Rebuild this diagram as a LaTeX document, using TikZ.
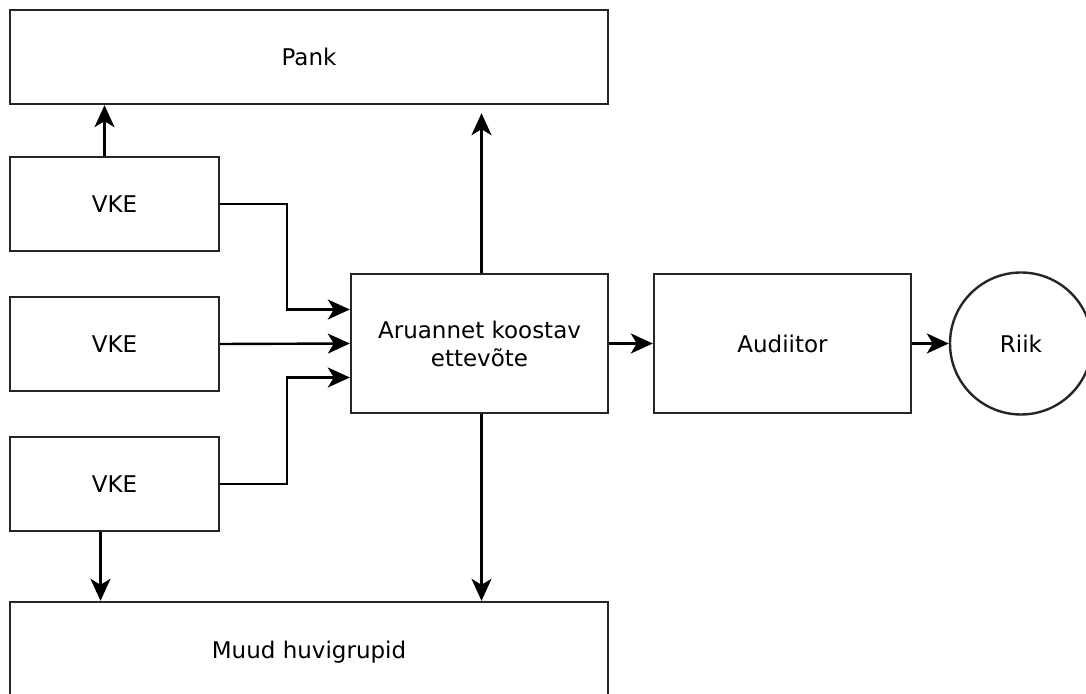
\documentclass[tikz,border=0pt]{standalone}
\usepackage{fontspec}
\setmainfont{DejaVu Sans}
\usepackage{tikz}
\usetikzlibrary{arrows.meta}

\begin{document}
\begin{tikzpicture}[x=0.5pt,y=-0.5pt,
	box/.style={rectangle,draw=black!85,line width=1.2pt,inner sep=0pt,align=center,font=\fontsize{11.5}{14}\selectfont},
	arr/.style={-{Stealth[length=11pt,width=10pt,inset=3pt]},line width=1.2pt}]
	\clip (0,0) rectangle (1086,694);
	\node[box,minimum width=299pt,minimum height=47pt] (Pank) at (309,57) {Pank};
	\node[box,minimum width=104.5pt,minimum height=47pt] (VKEa) at (114.5,204) {VKE};
	\node[box,minimum width=104.5pt,minimum height=47pt] (VKEb) at (114.5,344) {VKE};
	\node[box,minimum width=104.5pt,minimum height=47pt] (VKEc) at (114.5,484) {VKE};
	\node[box,minimum width=128.5pt,minimum height=69.5pt] (Aruanne) at (479.5,343.5) {Aruannet koostav\\ettevõte};
	\node[box,minimum width=128.5pt,minimum height=69.5pt] (Audiitor) at (782.5,343.5) {Audiitor};
	\node[box,circle,minimum size=71pt] (Riik) at (1021,343.5) {Riik};
	\node[box,minimum width=299pt,minimum height=50pt] (Muud) at (309,652) {Muud huvigrupid};
	% draw the line
	\draw[arr] ([xshift=-5pt]VKEa.north) -- ([xshift=-5pt]VKEa.north |- Pank.south);
	\draw[arr] (VKEa.east) -- ++(67,0) |- ([yshift=17pt]Aruanne.west);
	\draw[arr] (VKEb.east) -- (Aruanne.west);
	\draw[arr] (VKEc.east) -- ++(67,0) |- ([yshift=-17pt]Aruanne.west);
	\draw[arr] ([xshift=-7pt]VKEc.south) -- ([xshift=-7pt]VKEc.south |- Muud.north);
	\draw[arr] ([xshift=1pt]Aruanne.north) -- ([xshift=1pt,yshift=-4pt]Aruanne.north |- Pank.south);
	\draw[arr] ([xshift=1pt]Aruanne.south) -- ([xshift=1pt]Aruanne.south |- Muud.north);
	\draw[arr] (Aruanne.east) -- (Audiitor.west);
	\draw[arr] (Audiitor.east) -- (Riik.west);
\end{tikzpicture}
\end{document}
